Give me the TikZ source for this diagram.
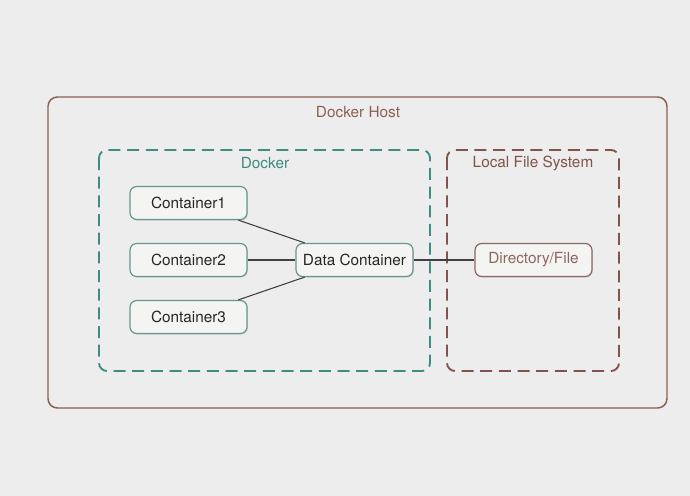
\documentclass[tikz,border=0pt]{standalone}
\usepackage{fontspec}
\setmainfont{TeX Gyre Heros}
\usetikzlibrary{positioning,shadows}

\definecolor{bgcol}{RGB}{237,237,237}
\definecolor{boxfill}{RGB}{244,244,243}
\definecolor{hostcol}{RGB}{140,96,82}
\definecolor{dockcol}{RGB}{62,140,130}
\definecolor{fscol}{RGB}{128,84,74}
\definecolor{cntcol}{RGB}{100,152,142}
\definecolor{dircol}{RGB}{140,104,94}

\begin{document}
\begin{tikzpicture}[x=0.75pt,y=-0.75pt,on grid,node distance=42.75pt,
	font=\fontsize{11.5}{13}\selectfont,
	frame/.style={line width=1.4pt,rounded corners=6pt,dash pattern=on 9pt off 5pt},
	cnt/.style={draw=cntcol,line width=0.9pt,fill=boxfill,rounded corners=5pt,
		minimum width=87.75pt,minimum height=24.75pt,inner sep=1pt,text=black!85,
		drop shadow={opacity=0.25,shadow xshift=0.6pt,shadow yshift=-0.8pt}},
	dir/.style={cnt,draw=dircol,text=dircol},
	link/.style={draw=black!75,line width=0.8pt}]
	% background and frames
	\fill[bgcol] (0,0) rectangle (690,496);
	\draw[hostcol,line width=1.1pt,rounded corners=7pt] (48,97) rectangle (667,408);
	\draw[frame,dockcol] (99,150) rectangle (430,371);
	\draw[frame,fscol] (447,150) rectangle (619,371);
	\node[text=hostcol] (hostlbl) at (358,112) {Docker Host};
	\node[text=dockcol] (docklbl) at (265,163) {Docker};
	\node[text=fscol] (fslbl) at (533,163) {Local File System};

	% containers
	\node[cnt] (c_2) at (188.5,260) {Container2};
	\node[cnt] (c_1) [above = of c_2] {Container1};
	\node[cnt] (c_3) [below = of c_2] {Container3};
	\node[cnt] (dc) [right = 124.5pt of c_2] {Data Container};
	\node[dir] (df) [right = 134.25pt of dc] {Directory/File};

	\path[link]
	(c_1) edge (dc)
	(c_2) edge (dc)
	(c_3) edge (dc)
	(dc) edge (df);
\end{tikzpicture}
\end{document}
